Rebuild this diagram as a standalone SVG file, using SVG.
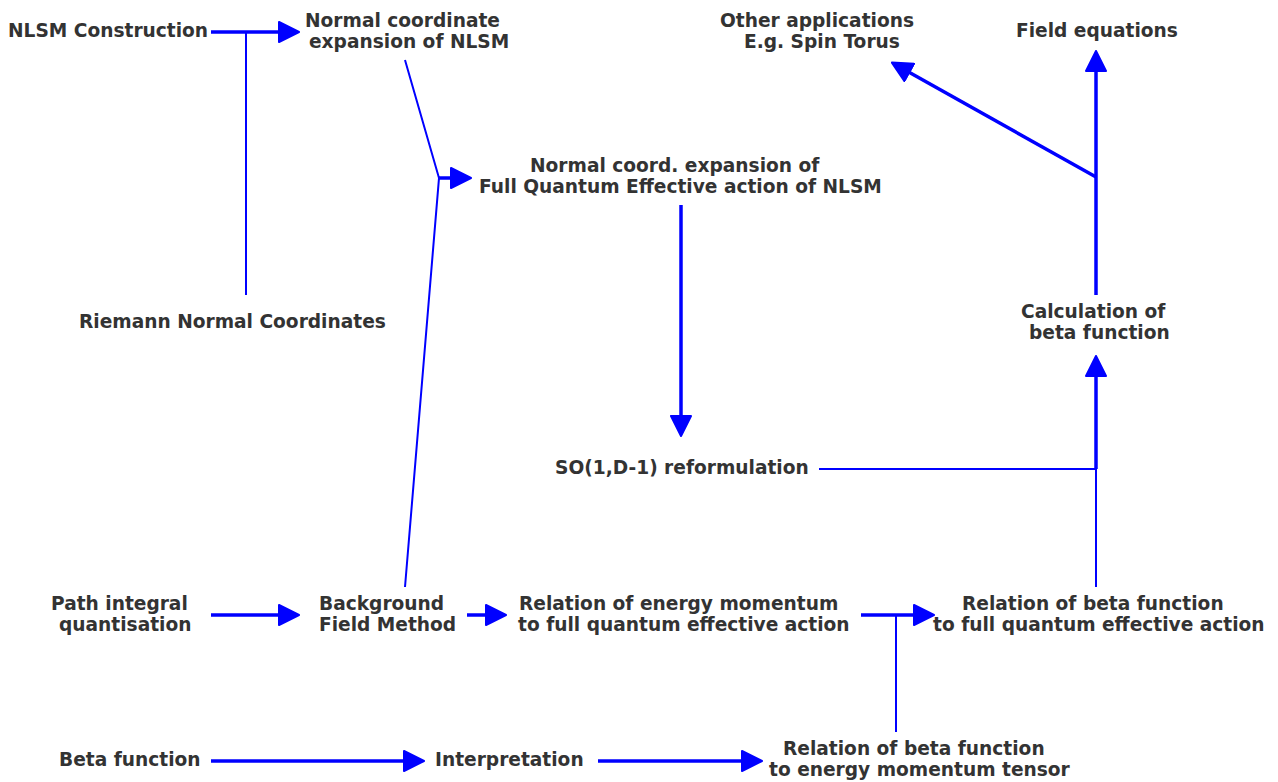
<svg xmlns="http://www.w3.org/2000/svg" width="1278" height="782" viewBox="0 0 1278 782">
<style>
text{font-family:"DejaVu Sans",sans-serif;font-weight:bold;font-size:18.6px;fill:#333}
.thick{stroke:#0000ff;stroke-width:3.5;fill:none}
.thin{stroke:#0000ff;stroke-width:2;fill:none}
</style>
<defs>
<marker id="ah" viewBox="0 0 22 22" markerWidth="22" markerHeight="22" refX="10" refY="11" markerUnits="userSpaceOnUse" orient="auto">
<path d="M1,1 L21,11 L1,21 z" fill="#0000ff" stroke="#0000ff" stroke-width="2" stroke-linejoin="round"/>
</marker>
</defs>
<rect width="1278" height="782" fill="#fff"/>
<g id="connectors">
<path class="thick" d="M211,32 H288" marker-end="url(#ah)"/>
<path class="thin" d="M246,32 V295"/>
<path class="thin" d="M405,60 L439,178 L405,587"/>
<path class="thick" d="M439,178 H460" marker-end="url(#ah)"/>
<path class="thick" d="M681,205 V425" marker-end="url(#ah)"/>
<path class="thin" d="M819,469 H1096 M1096,587 V469"/>
<path class="thick" d="M1096,469 V367" marker-end="url(#ah)"/>
<path class="thick" d="M1096,295 V62" marker-end="url(#ah)"/>
<path class="thick" d="M1096,177 L901.5,68" marker-end="url(#ah)"/>
<path class="thick" d="M211,615 H288" marker-end="url(#ah)"/>
<path class="thick" d="M467,615 H495" marker-end="url(#ah)"/>
<path class="thick" d="M861,615 H923" marker-end="url(#ah)"/>
<path class="thin" d="M896,732 V615"/>
<path class="thick" d="M211,761 H413" marker-end="url(#ah)"/>
<path class="thick" d="M598,761 H751" marker-end="url(#ah)"/>
</g>
<g id="n-nlsm"><text x="8" y="37">NLSM Construction</text></g>
<g id="n-normal"><text x="305" y="27">Normal coordinate</text><text x="309" y="48">expansion of NLSM</text></g>
<g id="n-other"><text x="720" y="27">Other applications</text><text x="744" y="48">E.g. Spin Torus</text></g>
<g id="n-field"><text x="1016" y="37">Field equations</text></g>
<g id="n-full"><text x="530" y="172">Normal coord. expansion of</text><text x="479" y="193">Full Quantum Effective action of NLSM</text></g>
<g id="n-riemann"><text x="79" y="328">Riemann Normal Coordinates</text></g>
<g id="n-calc"><text x="1021" y="318">Calculation of</text><text x="1029" y="339">beta function</text></g>
<g id="n-so"><text x="555" y="474">SO(1,D-1) reformulation</text></g>
<g id="n-path"><text x="51" y="610">Path integral</text><text x="59" y="631">quantisation</text></g>
<g id="n-bg"><text x="319" y="610">Background</text><text x="319" y="631">Field Method</text></g>
<g id="n-rel-em"><text x="519" y="610">Relation of energy momentum</text><text x="518" y="631">to full quantum effective action</text></g>
<g id="n-rel-beta"><text x="962" y="610">Relation of beta function</text><text x="933" y="631">to full quantum effective action</text></g>
<g id="n-beta"><text x="59" y="766">Beta function</text></g>
<g id="n-interp"><text x="435" y="766">Interpretation</text></g>
<g id="n-rel-emt"><text x="783" y="755">Relation of beta function</text><text x="769" y="776">to energy momentum tensor</text></g>
</svg>
